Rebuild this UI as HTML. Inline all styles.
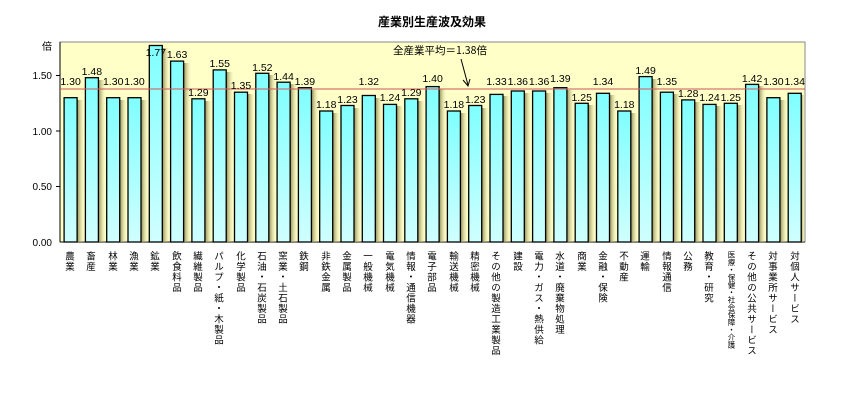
<!DOCTYPE html>
<html><head><meta charset="utf-8"><style>
body{margin:0;background:#fff;width:865px;height:400px;position:relative;overflow:hidden;font-family:"Liberation Sans","Noto Sans CJK JP",sans-serif}
.l{position:absolute;top:251px;writing-mode:vertical-rl;font-size:9.5px;letter-spacing:1px;line-height:10px;color:#000;font-family:"Noto Sans CJK JP","IPAGothic",sans-serif}
</style></head><body>
<svg width="865" height="400" style="position:absolute;left:0;top:0" font-family="Liberation Sans, Noto Sans CJK JP, sans-serif">
<defs>
<linearGradient id="b" x1="0" y1="0" x2="0" y2="1"><stop offset="0" stop-color="#80FFFF"/><stop offset="1" stop-color="#D0FFFF"/></linearGradient>
<linearGradient id="s" x1="0" y1="0" x2="1" y2="0"><stop offset="0" stop-color="#8c8650"/><stop offset="1" stop-color="#FFFFC8" stop-opacity="0"/></linearGradient>
</defs>
<text x="432" y="26" font-size="12" font-weight="bold" text-anchor="middle" font-family="Noto Sans CJK JP, sans-serif">産業別生産波及効果</text>
<rect x="60" y="42" width="745" height="200" fill="#FFFFC8" stroke="#888" stroke-width="1"/>
<g font-size="10" text-anchor="end">
<text x="52" y="50" font-family="Noto Sans CJK JP, sans-serif">倍</text>
<text x="52" y="79">1.50</text><text x="52" y="135">1.00</text><text x="52" y="190">0.50</text><text x="52" y="246">0.00</text>
</g>
<g stroke="#000"><line x1="60" y1="42" x2="60" y2="242"/><line x1="60" y1="242" x2="805" y2="242"/>
<line x1="56" y1="75.5" x2="60" y2="75.5"/><line x1="56" y1="131" x2="60" y2="131"/><line x1="56" y1="186.5" x2="60" y2="186.5"/></g>
<g id="bars"></g>
<g fill="url(#s)">
<rect x="77.1" y="100" width="8" height="142"/><rect x="98.4" y="80" width="8" height="162"/><rect x="119.7" y="100" width="8" height="142"/><rect x="141" y="100" width="8" height="142"/><rect x="162.3" y="48" width="8" height="194"/><rect x="183.6" y="63" width="8" height="179"/><rect x="204.9" y="101" width="8" height="141"/><rect x="226.2" y="72" width="8" height="170"/><rect x="247.5" y="94" width="8" height="148"/><rect x="268.8" y="75" width="8" height="167"/><rect x="290.1" y="84" width="8" height="158"/><rect x="311.4" y="90" width="8" height="152"/><rect x="332.7" y="113" width="8" height="129"/><rect x="354" y="108" width="8" height="134"/><rect x="375.3" y="98" width="8" height="144"/><rect x="396.5" y="106" width="8" height="136"/><rect x="417.8" y="101" width="8" height="141"/><rect x="439.1" y="89" width="8" height="153"/><rect x="460.4" y="113" width="8" height="129"/><rect x="481.7" y="108" width="8" height="134"/><rect x="503" y="96" width="8" height="146"/><rect x="524.3" y="93" width="8" height="149"/><rect x="545.6" y="93" width="8" height="149"/><rect x="566.9" y="90" width="8" height="152"/><rect x="588.2" y="105" width="8" height="137"/><rect x="609.5" y="95" width="8" height="147"/><rect x="630.8" y="113" width="8" height="129"/><rect x="652.1" y="79" width="8" height="163"/><rect x="673.4" y="94" width="8" height="148"/><rect x="694.7" y="102" width="8" height="140"/><rect x="716" y="106" width="8" height="136"/><rect x="737.3" y="105" width="8" height="137"/><rect x="758.6" y="86" width="8" height="156"/><rect x="779.9" y="100" width="8" height="142"/><rect x="801.2" y="95" width="4" height="147"/>
</g>
<g fill="url(#b)" stroke="#000" stroke-width="1.3">
<rect x="64.1" y="97.7" width="13" height="144.3"/><rect x="85.4" y="77.7" width="13" height="164.3"/><rect x="106.7" y="97.7" width="13" height="144.3"/><rect x="128" y="97.7" width="13" height="144.3"/><rect x="149.3" y="45.5" width="13" height="196.5"/><rect x="170.6" y="61.1" width="13" height="180.9"/><rect x="191.9" y="98.8" width="13" height="143.2"/><rect x="213.2" y="69.9" width="13" height="172.1"/><rect x="234.5" y="92.2" width="13" height="149.8"/><rect x="255.8" y="73.3" width="13" height="168.7"/><rect x="277.1" y="82.2" width="13" height="159.8"/><rect x="298.4" y="87.7" width="13" height="154.3"/><rect x="319.7" y="111" width="13" height="131"/><rect x="341" y="105.5" width="13" height="136.5"/><rect x="362.3" y="95.5" width="13" height="146.5"/><rect x="383.5" y="104.4" width="13" height="137.6"/><rect x="404.8" y="98.8" width="13" height="143.2"/><rect x="426.1" y="86.6" width="13" height="155.4"/><rect x="447.4" y="111" width="13" height="131"/><rect x="468.7" y="105.5" width="13" height="136.5"/><rect x="490" y="94.4" width="13" height="147.6"/><rect x="511.3" y="91" width="13" height="151"/><rect x="532.6" y="91" width="13" height="151"/><rect x="553.9" y="87.7" width="13" height="154.3"/><rect x="575.2" y="103.3" width="13" height="138.7"/><rect x="596.5" y="93.3" width="13" height="148.7"/><rect x="617.8" y="111" width="13" height="131"/><rect x="639.1" y="76.6" width="13" height="165.4"/><rect x="660.4" y="92.2" width="13" height="149.8"/><rect x="681.7" y="99.9" width="13" height="142.1"/><rect x="703" y="104.4" width="13" height="137.6"/><rect x="724.3" y="103.3" width="13" height="138.7"/><rect x="745.6" y="84.4" width="13" height="157.6"/><rect x="766.9" y="97.7" width="13" height="144.3"/><rect x="788.2" y="93.3" width="13" height="148.7"/>
</g>
<line x1="60" y1="89" x2="805" y2="89" stroke="#d06060" stroke-width="1.3" opacity="0.85"/>
<g font-size="10.5" text-anchor="middle">
<text x="70.6" y="85">1.30</text><text x="91.9" y="75">1.48</text><text x="113.2" y="85">1.30</text><text x="134.5" y="85">1.30</text><text x="155.8" y="56">1.77</text><text x="177.1" y="58">1.63</text><text x="198.4" y="96">1.29</text><text x="219.7" y="67">1.55</text><text x="241" y="89">1.35</text><text x="262.3" y="71">1.52</text><text x="283.6" y="80">1.44</text><text x="304.9" y="85">1.39</text><text x="326.2" y="108">1.18</text><text x="347.5" y="103">1.23</text><text x="368.8" y="85">1.32</text><text x="390" y="101">1.24</text><text x="411.3" y="96">1.29</text><text x="432.6" y="82">1.40</text><text x="453.9" y="108">1.18</text><text x="475.2" y="103">1.23</text><text x="496.5" y="85">1.33</text><text x="517.8" y="85">1.36</text><text x="539.1" y="85">1.36</text><text x="560.4" y="82">1.39</text><text x="581.7" y="101">1.25</text><text x="603" y="85">1.34</text><text x="624.3" y="108">1.18</text><text x="645.6" y="74">1.49</text><text x="666.9" y="85">1.35</text><text x="688.2" y="97">1.28</text><text x="709.5" y="101">1.24</text><text x="730.8" y="101">1.25</text><text x="752.1" y="82">1.42</text><text x="773.4" y="85">1.30</text><text x="794.7" y="85">1.34</text>
</g>
<text x="440" y="54" font-size="10.5" text-anchor="middle" font-family="Noto Sans CJK JP, sans-serif">全産業平均＝1.38倍</text>
<line x1="461" y1="59" x2="468" y2="85" stroke="#000"/>
<polyline points="463,80 468,86 470,79" fill="none" stroke="#000"/>
</svg>
<div class="l" style="left:65px">農業</div>
<div class="l" style="left:86px">畜産</div>
<div class="l" style="left:108px">林業</div>
<div class="l" style="left:129px">漁業</div>
<div class="l" style="left:150px">鉱業</div>
<div class="l" style="left:172px">飲食料品</div>
<div class="l" style="left:193px">繊維製品</div>
<div class="l" style="left:214px">パルプ・紙・木製品</div>
<div class="l" style="left:236px">化学製品</div>
<div class="l" style="left:257px">石油・石炭製品</div>
<div class="l" style="left:278px">窯業・土石製品</div>
<div class="l" style="left:299px">鉄鋼</div>
<div class="l" style="left:321px">非鉄金属</div>
<div class="l" style="left:342px">金属製品</div>
<div class="l" style="left:363px">一般機械</div>
<div class="l" style="left:385px">電気機械</div>
<div class="l" style="left:406px">情報・通信機器</div>
<div class="l" style="left:427px">電子部品</div>
<div class="l" style="left:449px">輸送機械</div>
<div class="l" style="left:470px">精密機械</div>
<div class="l" style="left:491px">その他の製造工業製品</div>
<div class="l" style="left:513px">建設</div>
<div class="l" style="left:534px">電力・ガス・熱供給</div>
<div class="l" style="left:555px">水道・廃棄物処理</div>
<div class="l" style="left:577px">商業</div>
<div class="l" style="left:598px">金融・保険</div>
<div class="l" style="left:619px">不動産</div>
<div class="l" style="left:640px">運輸</div>
<div class="l" style="left:662px">情報通信</div>
<div class="l" style="left:683px">公務</div>
<div class="l" style="left:704px">教育・研究</div>
<div class="l" style="left:726px;font-size:7.5px;letter-spacing:0">医療・保健・社会保障・介護</div>
<div class="l" style="left:747px">その他の公共サービス</div>
<div class="l" style="left:768px">対事業所サービス</div>
<div class="l" style="left:790px">対個人サービス</div>
</body></html>
